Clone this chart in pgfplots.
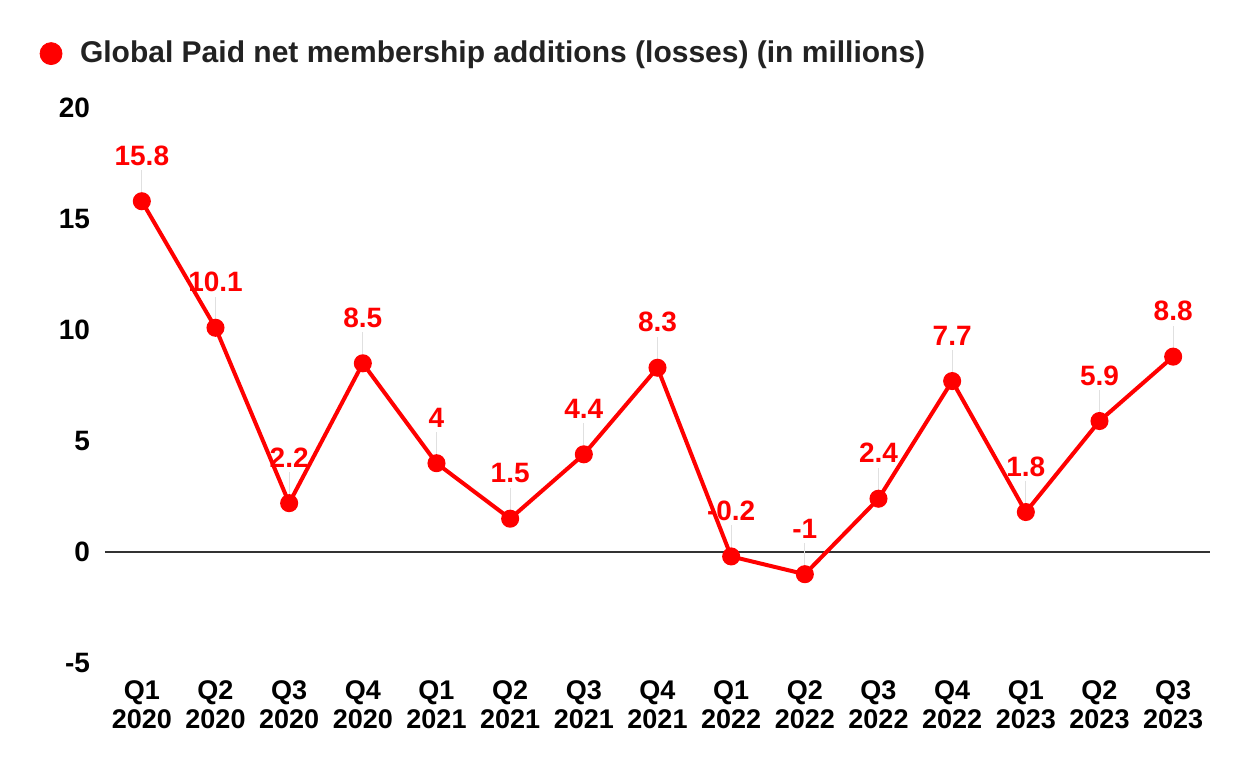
\documentclass[border=0pt]{standalone}
\usepackage{pgfplots}
\pgfplotsset{compat=1.18}
\usepackage{fontspec}
\setmainfont{Liberation Sans}
\definecolor{netred}{HTML}{FF0000}
\definecolor{zeroline}{HTML}{333333}
\definecolor{leader}{HTML}{E0E0E0}
\definecolor{legtext}{HTML}{222222}

\pgfplotstableread{
x y lead
0 15.8 1.4
1 10.1 1.4
2 2.2 1.4
3 8.5 1.4
4 4 1.4
5 1.5 1.4
6 4.4 1.4
7 8.3 1.4
8 -0.2 1.4
9 -1 1.4
10 2.4 1.4
11 7.7 1.4
12 1.8 1.4
13 5.9 1.4
14 8.8 1.4
}\netadds

\begin{document}
\begin{tikzpicture}
\path[use as bounding box] (0,0) rectangle (625pt,386pt);
\begin{axis}[
    at={(52.5pt,54.5pt)}, anchor=south west,
    scale only axis,
    width=552.5pt, height=277.5pt,
    xmin=-0.5, xmax=14.5,
    ymin=-5, ymax=20,
    ytick={-5,0,5,10,15,20},
    xtick={0,...,14},
    xticklabels={{Q1\\2020},{Q2\\2020},{Q3\\2020},{Q4\\2020},{Q1\\2021},{Q2\\2021},{Q3\\2021},{Q4\\2021},{Q1\\2022},{Q2\\2022},{Q3\\2022},{Q4\\2022},{Q1\\2023},{Q2\\2023},{Q3\\2023}},
    axis line style={draw=none},
    major tick length=0pt,
    /pgf/number format/assume math mode=true,
    xticklabel style={align=center, font=\fontsize{13.5}{14.5}\selectfont\bfseries, yshift=-5.5pt},
    yticklabel style={font=\fontsize{14}{15}\selectfont\bfseries, xshift=-4pt},
    clip=false,
    legend style={draw=none, fill=none, inner sep=0pt,
        at={(axis description cs:-0.0595,1.098)}, anchor=west,
        nodes={inner sep=0pt, text=legtext, font=\fontsize{15}{17}\selectfont\bfseries}},
    legend cell align=left,
]
\addplot[zeroline, line width=0.75pt, forget plot] coordinates {(-0.5,0) (14.5,0)};
\addplot[netred, line width=2pt, mark=*, mark size=3.5pt, forget plot,
    mark options={fill=netred, draw=netred},
    error bars/.cd, y dir=plus, y explicit,
    error bar style={leader, line width=0.6pt}, error mark=none]
    table[x=x, y=y, y error=lead] {\netadds};
\addplot[netred, draw=none, mark=none, forget plot,
    nodes near coords,
    every node near coord/.append style={anchor=base, yshift=18pt, text=netred,
        font=\fontsize{14}{15}\selectfont\bfseries}]
    table[x=x, y=y] {\netadds};
\addlegendimage{legend image code/.code={\fill[netred] (5.5pt,0) circle (5.5pt); \path[draw=none] (0,0) (20pt,0);}}
\addlegendentry{Global Paid net membership additions (losses) (in millions)}
\end{axis}
\end{tikzpicture}
\end{document}
